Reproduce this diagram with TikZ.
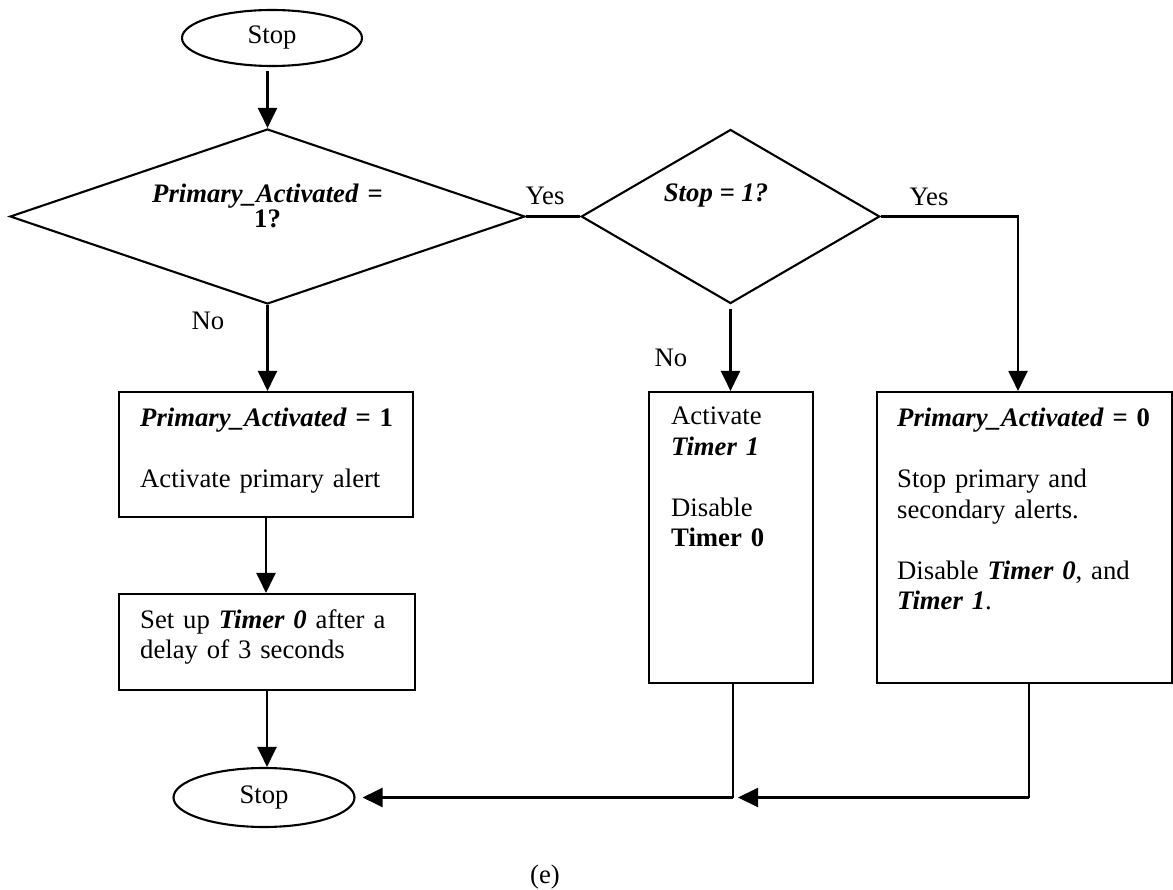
\documentclass[tikz,border=0pt]{standalone}
\usepackage{fontspec}
\setmainfont{Liberation Serif}
\usetikzlibrary{shapes.geometric,arrows.meta}
\newcommand{\bitext}[1]{\textbf{\textit{#1}}}
\begin{document}
\begin{tikzpicture}[x=1pt,y=-1pt,
  every node/.style={font=\fontsize{26.7pt}{30.5pt}\selectfont},
  line/.style={line width=2.1pt},
  thinline/.style={line width=1.6pt},
  arr/.style={line width=2.1pt,-{Triangle[length=20pt,width=19pt]}},
  term/.style={draw,line width=2.1pt,ellipse,inner sep=0pt},
  decision/.style={draw,line width=2.1pt,diamond,inner sep=0pt},
  procbox/.style={draw,line width=2.1pt,rectangle,inner sep=0pt},
  boxtext/.style={anchor=base west,inner sep=0pt,text width=#1,align=left},
  boxtext/.default=300pt,
  lbl/.style={anchor=base,inner sep=0pt}
]
\useasboundingbox (0,0) rectangle (1173,890);

% terminals
\node[term,minimum width=180pt,minimum height=56pt] (start) at (272,38) {Stop};
\node[term,minimum width=181pt,minimum height=59pt] (end) at (264,797.5) {Stop};

% decisions
\node[decision,minimum width=515pt,minimum height=175pt] (d1) at (267.5,216.5) {};
\node[lbl,text width=400pt,align=center] (d1t) at (267.5,203)
  {\bitext{Primary\_Activated} \textbf{=}\\[-6pt]\textbf{1?}};
\node[decision,minimum width=298.5pt,minimum height=174pt] (d2) at (730.5,216.5) {};
\node[lbl] (d2t) at (716,202) {\bitext{Stop = 1?}};

% process boxes
\node[procbox,minimum width=294pt,minimum height=125pt] (b1) at (266,454.5) {};
\node[boxtext] (b1t) at (140,427)
  {\bitext{Primary\_Activated} \textbf{= 1}\\[30.5pt]Activate primary alert};
\node[procbox,minimum width=296pt,minimum height=96pt] (b2) at (267,642) {};
\node[boxtext] (b2t) at (140,628)
  {Set up \bitext{Timer 0} after a\\delay of 3 seconds};
\node[procbox,minimum width=164pt,minimum height=291pt] (b3) at (731,537.5) {};
\node[boxtext=140pt] (b3t) at (671,425)
  {Activate\\\bitext{Timer 1}\\[30.5pt]Disable\\\textbf{Timer 0}};
\node[procbox,minimum width=295pt,minimum height=291pt] (b4) at (1024.5,537.5) {};
\node[boxtext=270pt] (b4t) at (897,427)
  {\bitext{Primary\_Activated} \textbf{= 0}\\[30.5pt]Stop primary and\\secondary alerts.\\[30.5pt]Disable \bitext{Timer 0}, and\\\bitext{Timer 1}.};

% labels
\node[lbl] (yes1) at (545,205) {Yes};
\node[lbl] (yes2) at (929,206) {Yes};
\node[lbl] (no1) at (208,330) {No};
\node[lbl] (no2) at (671,367) {No};
\node[lbl] (cap) at (545,883) {(e)};

% connectors
\coordinate (yesR) at (1018,216.5);
\coordinate (j) at (733,797.5);
\coordinate (k) at (1029,797.5);
\draw[arr,shorten <=4pt] (d1.north |- start.south) -- (d1.north);
\draw[line] (d1.east) -- (d2.west);
\draw[arr] (d2.east) -- (yesR) -- (yesR |- b4.north);
\draw[arr] (d1.south) -- (d1.south |- b1.north);
\draw[arr,shorten <=4pt] (d2.south) -- (d2.south |- b3.north);
\draw[arr] (b1.south) -- (b1.south |- b2.north);
\draw[arr] (b2.south) -- (b2.south |- end.north);
\draw[thinline] (b3.south -| j) -- (j);
\draw[thinline] (b4.south -| k) -- (k);
\draw[arr,shorten >=7pt] (j) -- (j -| end.east);
\draw[arr] (k) -- ([xshift=5pt]j);
\end{tikzpicture}
\end{document}
